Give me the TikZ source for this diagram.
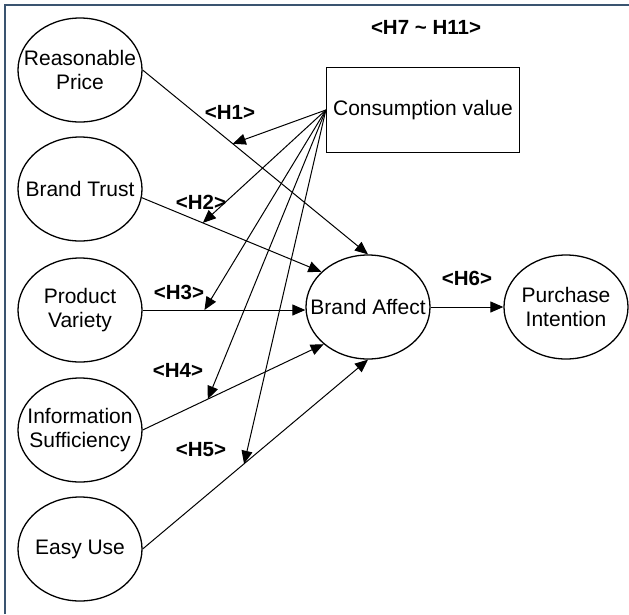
\documentclass[tikz,border=0pt]{standalone}
\usepackage{fontspec}
\setmainfont{Liberation Sans}
\usetikzlibrary{arrows.meta,shapes.geometric}

\definecolor{framecol}{RGB}{58,84,112}

\tikzset{
  construct/.style={draw, ellipse, line width=1.3pt, minimum width=124pt,
    minimum height=104pt, inner xsep=-15pt, inner ysep=0pt, align=center,
    font=\fontsize{21}{23.5}\selectfont},
  valuebox/.style={draw, line width=1.3pt, minimum width=193pt,
    minimum height=85pt, font=\fontsize{21}{23.5}\selectfont},
  hyp/.style={font=\bfseries\fontsize{20.5}{23}\selectfont},
  link/.style={-{Triangle[length=13pt,width=11pt]}, line width=1pt}
}

\begin{document}
\begin{tikzpicture}[x=1pt, y=-1pt, line width=1pt]

  \useasboundingbox (0,0) rectangle (629,614);

  % Frame (left and top edges)
  \draw[framecol, line width=2pt] (5,614) -- (5,5) -- (629,5);

  % Antecedent constructs
  \node[construct] (rp) at (80,70)  {Reasonable\\Price};
  \node[construct] (bt) at (80,189) {Brand Trust};
  \node[construct] (pv) at (80,310) {Product\\Variety};
  \node[construct] (is) at (80,430) {Information\\Sufficiency};
  \node[construct] (eu) at (80,549) {Easy Use};

  % Mediator, outcome and moderator
  \node[construct] (ba) at (368,307) {Brand Affect};
  \node[construct] (pi) at (566,307) {Purchase\\Intention};
  \node[valuebox]  (cv) at (423,110) {Consumption value};

  % Direct paths
  \draw[link] (rp.east) -- (ba.north);
  \draw[link] (bt.-8) -- (ba.143);
  \draw[link] (pv.east) -- (pv.east -| ba.west);
  \draw[link] (is.east) -- (ba.220);
  \draw[link] (eu.east) -- (ba.south);
  \draw[link] (ba.east) -- (pi.west);

  % Points where the moderating arrows meet the paths
  \path (rp.east) -- (ba.north) coordinate[pos=0.40] (m1);
  \path (bt.-8) -- (ba.143) coordinate[pos=0.34] (m2);
  \path (pv.east) -- (pv.east -| ba.west) coordinate[pos=0.38] (m3);
  \path (is.east) -- (ba.220) coordinate[pos=0.36] (m4);
  \path (eu.east) -- (ba.south) coordinate[pos=0.45] (m5);

  % Moderating paths
  \foreach \m in {m1,m2,m3,m4,m5}
    \draw[link] (cv.west) -- (\m);

  % Hypothesis labels
  \node[hyp] (h1) at (230,112) {<H1>};
  \node[hyp] (h2) at (201,202) {<H2>};
  \node[hyp] (h3) at (179,292) {<H3>};
  \node[hyp] (h4) at (178,370) {<H4>};
  \node[hyp] (h5) at (201,450) {<H5>};
  \node[hyp] (h6) at (467,278) {<H6>};
  \node[hyp] (h7) at (426,27)  {<H7 \textasciitilde{} H11>};

\end{tikzpicture}
\end{document}
